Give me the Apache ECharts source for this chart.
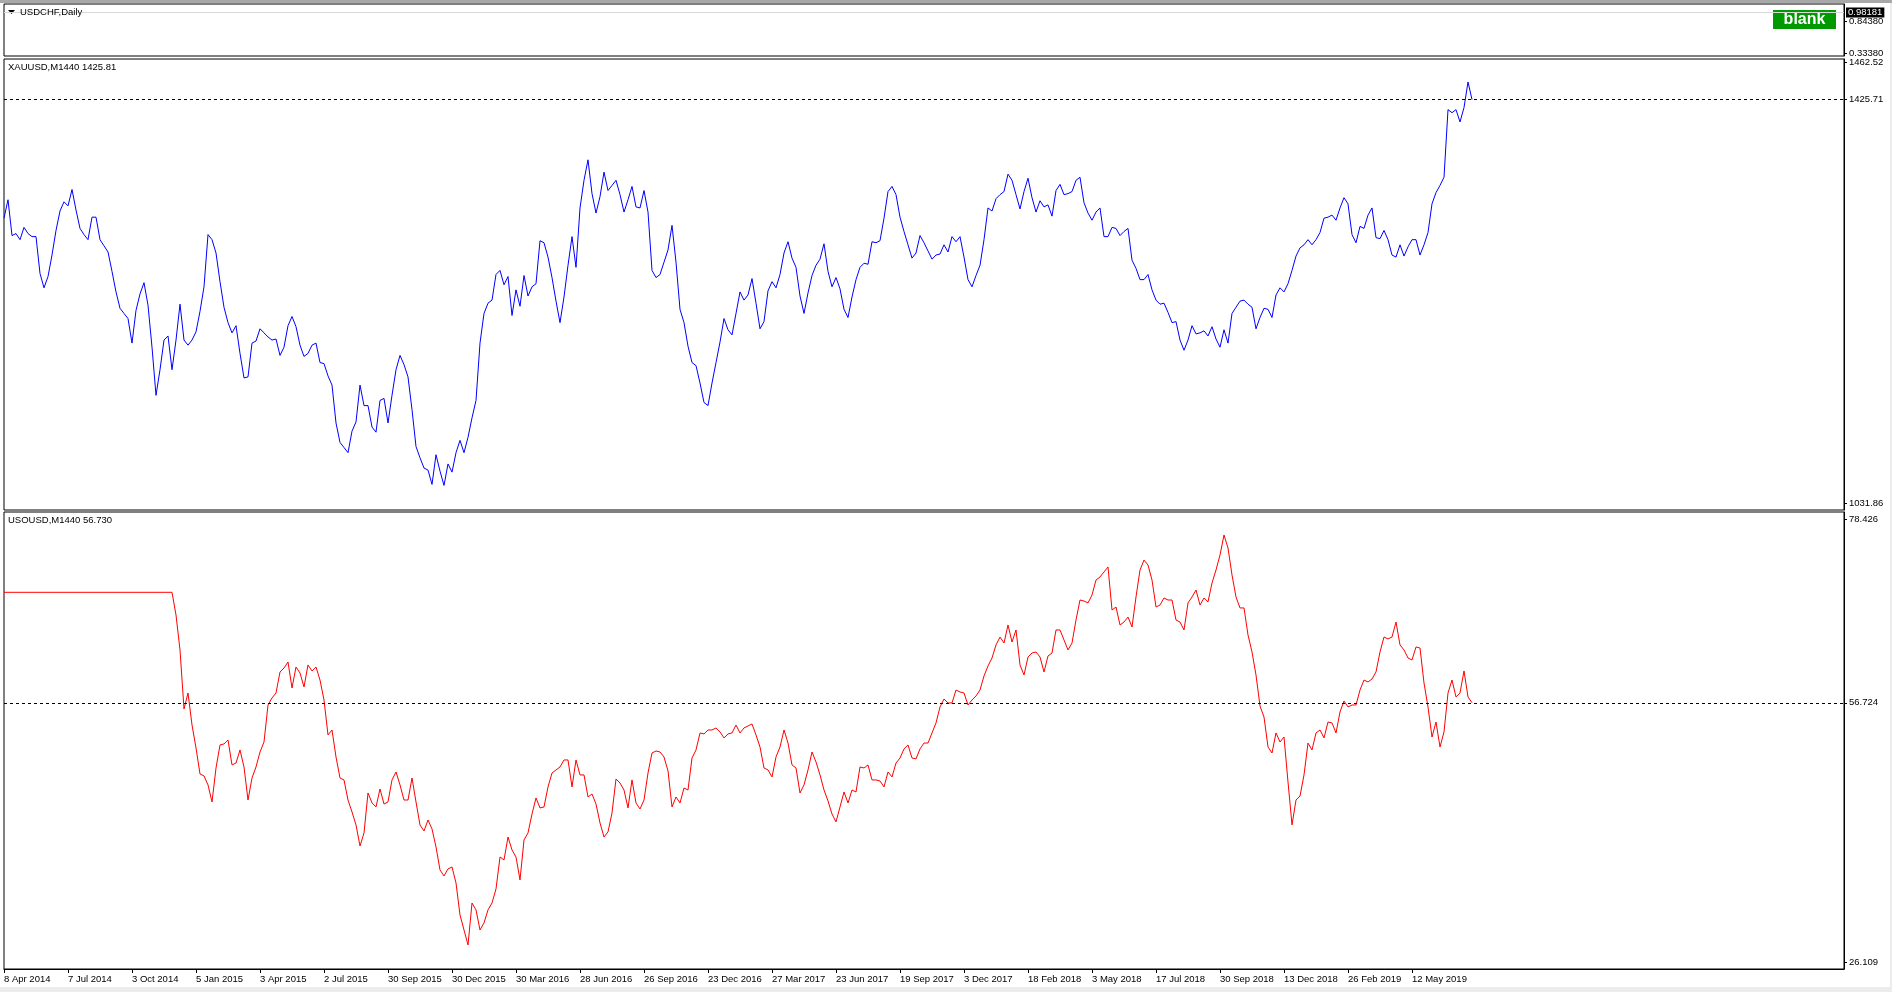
<!DOCTYPE html>
<html>
<head>
<meta charset="utf-8">
<script src="https://cdn.jsdelivr.net/npm/echarts@6/dist/echarts.min.js"></script>
<style>
  html, body { margin: 0; padding: 0; background: #ececec; }
  #frame { position: absolute; left: 0; top: 3px; width: 1890px; height: 984px; background: #ffffff; }
  #topstrip { position: absolute; left: 0; top: 0; width: 1892px; height: 3px; background: #a8a8a8; }
  #c { position: absolute; left: 0; top: 0; width: 1892px; height: 992px; }
</style>
</head>
<body>
<div id="topstrip"></div>
<div id="frame"></div>
<div id="c"></div>
<script>
// ---------------- data ----------------
const xTickLabels = ['8 Apr 2014','7 Jul 2014','3 Oct 2014','5 Jan 2015','3 Apr 2015','2 Jul 2015',
  '30 Sep 2015','30 Dec 2015','30 Mar 2016','28 Jun 2016','26 Sep 2016','23 Dec 2016','27 Mar 2017',
  '23 Jun 2017','19 Sep 2017','3 Dec 2017','18 Feb 2018','3 May 2018','17 Jul 2018','30 Sep 2018',
  '13 Dec 2018','26 Feb 2019','12 May 2019'];
const barsPerLabel = 16;
const slotCount = 461;

const usdchfLast = 0.98181;
const usdchfTicks = [0.84380, 0.33380];

const goldLast = 1425.81;
const goldLine = 1425.71;
const goldTicks = [1462.52, 1425.71, 1031.86];
const gold = [
  1310,1328,1293,1295,1289,1301,1295,1292,1292,1256,
  1242,1253,1274,1298,1317,1326,1322,1338,1318,1300,
  1294,1289,1311,1311,1289,1283,1277,1258,1238,1222,
  1217,1212,1188,1220,1236,1247,1225,1184,1137,1162,
  1191,1195,1162,1191,1226,1191,1186,1191,1199,1219,
  1243,1294,1289,1276,1248,1223,1208,1198,1205,1178,
  1154,1155,1188,1190,1202,1198,1194,1191,1192,1176,
  1184,1205,1214,1204,1186,1175,1178,1186,1188,1169,
  1168,1156,1147,1110,1091,1086,1081,1102,1111,1147,
  1127,1127,1106,1101,1132,1134,1110,1137,1162,1176,
  1167,1155,1123,1087,1076,1066,1064,1050,1079,1063,
  1049,1070,1062,1081,1093,1081,1096,1115,1132,1188,
  1217,1227,1230,1255,1259,1245,1253,1215,1240,1224,
  1254,1234,1243,1246,1288,1286,1272,1252,1229,1208,
  1233,1264,1292,1262,1320,1347,1367,1334,1315,1331,
  1355,1337,1342,1347,1333,1316,1328,1341,1321,1320,
  1337,1316,1259,1252,1255,1267,1279,1303,1267,1221,
  1208,1185,1169,1166,1149,1130,1127,1149,1169,1189,
  1212,1201,1196,1217,1238,1230,1235,1251,1227,1202,
  1209,1239,1248,1242,1255,1276,1287,1271,1262,1234,
  1217,1237,1254,1264,1270,1285,1258,1243,1252,1241,
  1221,1213,1233,1250,1262,1266,1265,1287,1286,1288,
  1310,1336,1341,1333,1311,1297,1284,1271,1276,1293,
  1286,1278,1270,1274,1275,1284,1277,1292,1287,1292,
  1272,1250,1243,1254,1264,1289,1320,1317,1329,1333,
  1336,1353,1347,1333,1319,1336,1349,1330,1316,1327,
  1321,1323,1312,1337,1343,1333,1334,1336,1347,1350,
  1325,1315,1308,1316,1320,1292,1292,1301,1300,1293,
  1297,1300,1269,1261,1250,1250,1255,1240,1230,1226,
  1227,1218,1208,1209,1191,1181,1191,1205,1197,1198,
  1200,1195,1204,1192,1184,1201,1188,1217,1223,1229,
  1230,1226,1223,1202,1213,1222,1221,1213,1235,1242,
  1238,1246,1259,1273,1281,1284,1289,1284,1289,1296,
  1310,1311,1313,1308,1320,1330,1324,1294,1286,1302,
  1300,1313,1320,1291,1290,1298,1289,1274,1272,1284,
  1273,1282,1289,1289,1274,1284,1296,1324,1335,1342,
  1350,1416,1413,1416,1404,1418,1443,1425.81
];

const oilLast = 56.730;
const oilLine = 56.724;
const oilTicks = [78.426, 56.724, 26.109];
const oil = [
  69.77,69.77,69.77,69.77,69.77,69.77,69.77,69.77,69.77,69.77,
  69.77,69.77,69.77,69.77,69.77,69.77,69.77,69.77,69.77,69.77,
  69.77,69.77,69.77,69.77,69.77,69.77,69.77,69.77,69.77,69.77,
  69.77,69.77,69.77,69.77,69.77,69.77,69.77,69.77,69.77,69.77,
  69.77,69.77,69.77,67.09,62.96,55.99,57.88,54.10,51.39,48.31,
  48.08,47.02,45.01,49.02,51.74,51.86,52.33,49.38,49.61,51.15,
  49.14,45.24,47.84,49.14,50.91,52.09,56.46,57.29,57.88,60.36,
  60.83,61.54,58.47,60.95,60.24,58.59,61.19,60.48,60.95,59.41,
  57.05,52.92,53.51,50.32,47.84,47.61,45.24,43.83,42.29,39.81,
  41.35,46.07,44.89,44.42,46.54,44.77,45.01,47.61,48.55,47.02,
  45.24,45.24,47.84,45.01,42.29,41.58,42.88,41.82,39.69,36.98,
  36.27,37.10,37.33,35.44,31.66,29.89,28.12,33.08,32.26,29.89,
  30.72,32.26,33.08,34.74,38.51,38.16,40.87,39.34,38.51,35.80,
  40.52,41.35,43.59,45.48,44.30,44.42,46.78,48.43,48.79,49.14,
  49.97,49.97,46.78,49.97,48.20,48.20,45.60,45.95,44.77,42.53,
  40.87,41.47,43.71,47.72,47.25,46.42,44.30,47.61,44.89,44.18,
  45.24,48.43,50.79,51.03,50.91,50.32,48.67,44.42,45.60,44.89,
  46.66,46.42,50.20,51.15,53.16,53.04,53.51,53.51,53.75,53.28,
  52.57,53.04,53.16,54.10,53.16,53.75,53.98,54.22,52.92,51.50,
  49.02,48.79,47.96,50.32,51.50,53.51,51.97,49.38,49.02,46.07,
  47.02,48.79,50.91,49.73,48.20,46.42,45.13,43.59,42.65,44.42,
  46.19,44.89,46.42,46.19,49.14,49.02,49.38,47.61,47.61,47.49,
  46.78,48.55,47.96,49.61,50.20,51.27,51.74,50.20,50.09,51.27,
  51.97,51.97,53.16,54.34,56.23,57.17,56.70,56.70,58.23,58.00,
  57.88,56.46,57.05,57.53,58.23,59.89,61.07,62.01,63.55,64.49,
  63.78,65.91,63.90,65.32,61.19,60.00,62.13,62.60,62.72,62.13,
  60.36,62.25,62.60,65.32,65.32,64.14,62.96,63.78,66.50,68.86,
  68.74,68.51,69.45,71.22,71.58,72.17,72.76,67.68,68.03,65.91,
  66.26,66.85,65.67,69.22,72.40,73.58,72.99,71.22,68.03,68.27,
  69.10,68.86,68.86,66.50,66.26,65.32,68.51,69.22,70.04,68.27,
  69.10,68.63,70.87,72.40,74.17,76.54,75.00,71.81,69.22,67.92,
  67.92,64.73,62.72,60.00,56.34,55.04,51.50,50.79,53.16,52.09,
  52.68,47.37,42.30,45.24,45.71,48.20,51.97,51.15,53.16,53.51,
  52.57,54.45,54.34,53.16,55.64,56.94,56.23,56.46,56.46,58.23,
  59.41,59.18,59.53,60.36,62.72,64.49,64.26,64.49,66.26,63.55,
  62.96,62.01,61.78,63.31,63.19,59.06,56.23,52.68,54.45,51.50,
  53.28,57.88,59.41,57.41,57.88,60.48,57.41,56.73
];

// ---------------- chart ----------------
const categories = Array.from({ length: slotCount }, (_, i) => String(i));
const FONT = '"Liberation Sans", Arial, sans-serif';
const FS = 9.5;
const isLabelSlot = (idx) => idx % barsPerLabel === 0 && idx / barsPerLabel < xTickLabels.length;

function yAxisFor(gridIndex, min, max, ticks, digits) {
  return {
    type: 'value', gridIndex, position: 'right', min, max,
    splitLine: { show: false },
    axisLine: { show: true, lineStyle: { color: '#000', width: 1 } },
    axisTick: { show: true, inside: false, length: 3, customValues: ticks, lineStyle: { color: '#000' } },
    axisLabel: {
      show: true, customValues: ticks, margin: 5, color: '#000',
      fontFamily: FONT, fontSize: FS,
      formatter: (v) => Number(v).toFixed(digits)
    }
  };
}

function xAxisFor(gridIndex, showLabels) {
  return {
    type: 'category', gridIndex, data: categories, boundaryGap: false,
    axisLine: { show: showLabels, lineStyle: { color: '#000' } },
    axisTick: { show: showLabels, length: 4, interval: isLabelSlot, lineStyle: { color: '#000' } },
    axisLabel: {
      show: showLabels, interval: isLabelSlot, align: 'left', margin: 5,
      color: '#000', fontFamily: FONT, fontSize: FS,
      formatter: (val, idx) => xTickLabels[Math.round(idx / barsPerLabel)] || ''
    },
    splitLine: { show: false }
  };
}

const chart = echarts.init(document.getElementById('c'), null, { renderer: 'canvas' });
const option = {
  animation: false,
  backgroundColor: 'transparent',
  title: [
    { text: 'USDCHF,Daily', left: 20, top: 7, padding: 0,
      textStyle: { fontFamily: FONT, fontSize: FS, fontWeight: 'normal', color: '#000' } },
    { text: 'XAUUSD,M1440 ' + goldLast.toFixed(2), left: 8, top: 62, padding: 0,
      textStyle: { fontFamily: FONT, fontSize: FS, fontWeight: 'normal', color: '#000' } },
    { text: 'USOUSD,M1440 ' + oilLast.toFixed(3), left: 8, top: 515, padding: 0,
      textStyle: { fontFamily: FONT, fontSize: FS, fontWeight: 'normal', color: '#000' } }
  ],
  graphic: [
    { type: 'polygon', shape: { points: [[8, 10], [15, 10], [11.5, 14]] }, style: { fill: '#000' } },
    { type: 'group', left: 1773, top: 10, children: [
      { type: 'rect', shape: { x: 0, y: 0, width: 63, height: 19 }, style: { fill: '#009900' } },
      { type: 'text', x: 31.5, y: 9.5, style: { text: 'blank', fill: '#ffffff', font: 'bold 16px "Liberation Sans", Arial, sans-serif', textAlign: 'center', textVerticalAlign: 'middle' } }
    ] }
  ],
  grid: [
    { left: 4, top: 4, width: 1840, height: 52, show: true, borderColor: '#000', borderWidth: 1, backgroundColor: '#fff' },
    { left: 4, top: 59, width: 1840, height: 451, show: true, borderColor: '#000', borderWidth: 1, backgroundColor: '#fff' },
    { left: 4, top: 512, width: 1840, height: 457, show: true, borderColor: '#000', borderWidth: 1, backgroundColor: '#fff' }
  ],
  xAxis: [xAxisFor(0, false), xAxisFor(1, false), xAxisFor(2, true)],
  yAxis: [
    yAxisFor(0, 0.286, 1.1147, usdchfTicks, 5),
    yAxisFor(1, 1025.02, 1465.45, goldTicks, 2),
    yAxisFor(2, 25.282, 79.253, oilTicks, 3)
  ],
  series: [
    {
      name: 'USDCHF', type: 'line', xAxisIndex: 0, yAxisIndex: 0, data: [],
      symbol: 'none', silent: true,
      markLine: {
        silent: true, symbol: 'none',
        lineStyle: { color: '#d9d9d9', type: 'solid', width: 1 },
        label: { show: true, position: 'end', distance: 2, formatter: usdchfLast.toFixed(5),
          color: '#fff', backgroundColor: '#000', padding: [0, 2, 0, 2], fontFamily: FONT, fontSize: FS },
        data: [{ yAxis: usdchfLast }]
      }
    },
    {
      name: 'XAUUSD', type: 'line', xAxisIndex: 1, yAxisIndex: 1, data: gold,
      symbol: 'none', showSymbol: false, silent: true,
      lineStyle: { color: '#0000ff', width: 1 }, itemStyle: { color: '#0000ff' },
      markLine: {
        silent: true, symbol: 'none',
        lineStyle: { color: '#000', type: [3, 3], width: 1 },
        label: { show: false },
        data: [{ yAxis: goldLine }]
      }
    },
    {
      name: 'USOUSD', type: 'line', xAxisIndex: 2, yAxisIndex: 2, data: oil,
      symbol: 'none', showSymbol: false, silent: true,
      lineStyle: { color: '#ff0000', width: 1 }, itemStyle: { color: '#ff0000' },
      markLine: {
        silent: true, symbol: 'none',
        lineStyle: { color: '#000', type: [3, 3], width: 1 },
        label: { show: false },
        data: [{ yAxis: oilLine }]
      }
    }
  ]
};
chart.setOption(option);
</script>
</body>
</html>
